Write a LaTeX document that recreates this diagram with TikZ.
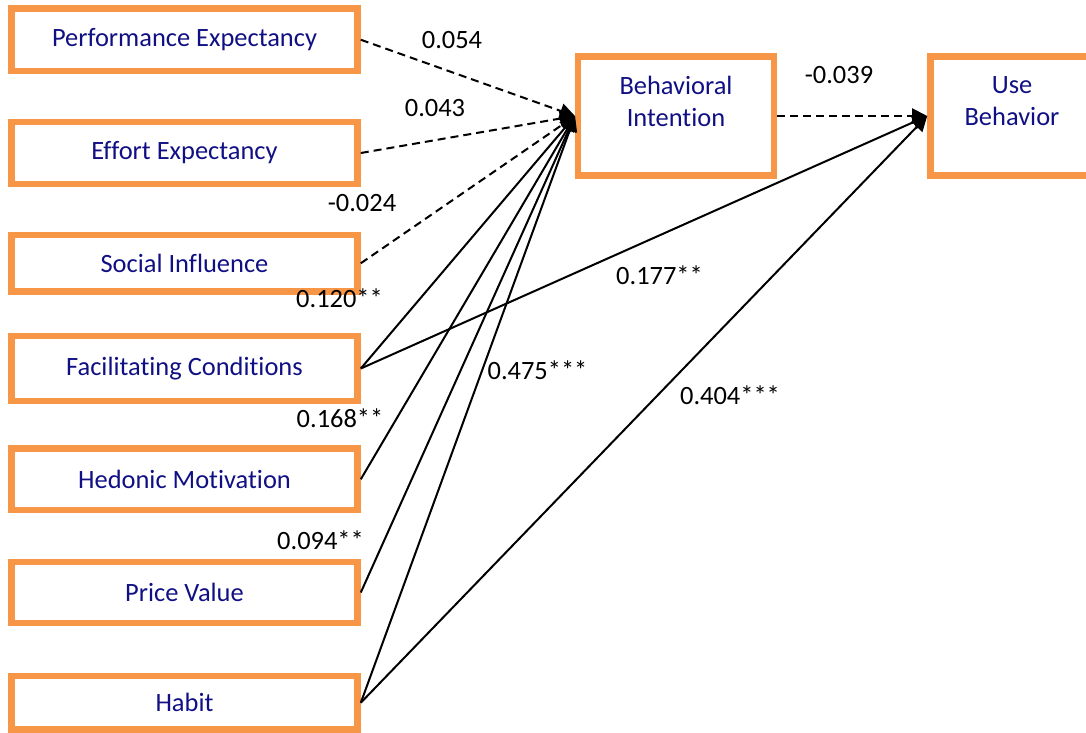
\documentclass[tikz,border=0pt]{standalone}
\usepackage{fontspec}
\setmainfont{Carlito}[Ligatures=NoCommon]
\usetikzlibrary{arrows.meta}
\definecolor{boxorange}{HTML}{F79646}
\definecolor{labelnavy}{RGB}{16,16,132}

\begin{document}
\begin{tikzpicture}[x=0.025cm, y=-0.025cm,
    construct/.style={draw=boxorange, line width=0.1625cm, minimum width=8.65cm,
      minimum height=1.55cm, inner sep=0pt, text=labelnavy,
      font=\fontsize{18.8}{22.7}\selectfont},
    outcome/.style={construct, minimum width=4.8875cm, minimum height=2.975cm},
    caption/.style={text=labelnavy, align=center, inner sep=0pt,
      font=\fontsize{18.8}{22.7}\selectfont},
    coef/.style={inner sep=0pt, font=\fontsize{18.8}{22.7}\selectfont},
    sig/.style={line width=0.05cm, -{Triangle[length=0.375cm, width=0.375cm]}},
    nonsig/.style={sig, dash pattern=on 0.2cm off 0.125cm}]
  \useasboundingbox (0,0) rectangle (1086,732);

  % Predictors
  \node[construct, minimum height=1.5625cm] (pe) at (184.5,39.75) {Performance Expectancy};
  \node[construct] (ee) at (184.5,153) {Effort Expectancy};
  \node[construct, minimum height=1.4125cm] (si) at (184.5,263.25) {Social Influence};
  \node[construct, minimum height=1.625cm] (fc) at (184.5,368.5) {Facilitating Conditions};
  \node[construct, minimum height=1.5375cm] (hm) at (184.5,479.25) {Hedonic Motivation};
  \node[construct, minimum height=1.525cm] (pv) at (184.5,592.5) {Price Value};
  \node[construct, minimum height=1.3375cm] (hb) at (184.5,702.75) {Habit};

  % Intention and behaviour
  \node[outcome] (bi) at (676,116) {};
  \node[caption] (bitext) at (676,101) {Behavioral\\Intention};
  \node[outcome, minimum width=4.075cm] (ub) at (1012,116) {};
  \node[caption] (ubtext) at (1012,101) {Use\\Behavior};

  % Paths
  \draw[nonsig] (pe.east) -- (bi.west);
  \draw[nonsig] (ee.east) -- (bi.west);
  \draw[nonsig] (si.east) -- (bi.west);
  \draw[sig] (fc.east) -- (bi.west);
  \draw[sig] (hm.east) -- (bi.west);
  \draw[sig] (pv.east) -- (bi.west);
  \draw[sig] (hb.east) -- (bi.west);
  \draw[nonsig] (bi.east) -- (ub.west);
  \draw[sig] (fc.east) -- (ub.west);
  \draw[sig] (hb.east) -- (ub.west);

  % Coefficients
  \node[coef] (c-pe) at (452,40) {0.054};
  \node[coef] (c-ee) at (435,108) {0.043};
  \node[coef] (c-si) at (362,203) {-0.024};
  \node[coef] (c-fc) at (339.5,298) {0.120**};
  \node[coef] (c-hm) at (340,418) {0.168**};
  \node[coef] (c-pv) at (320.5,540) {0.094**};
  \node[coef] (c-hb) at (537.5,370) {0.475***};
  \node[coef] (c-bi) at (839,75) {-0.039};
  \node[coef] (c-fcub) at (659.5,275) {0.177**};
  \node[coef] (c-hbub) at (730,395) {0.404***};
\end{tikzpicture}
\end{document}
